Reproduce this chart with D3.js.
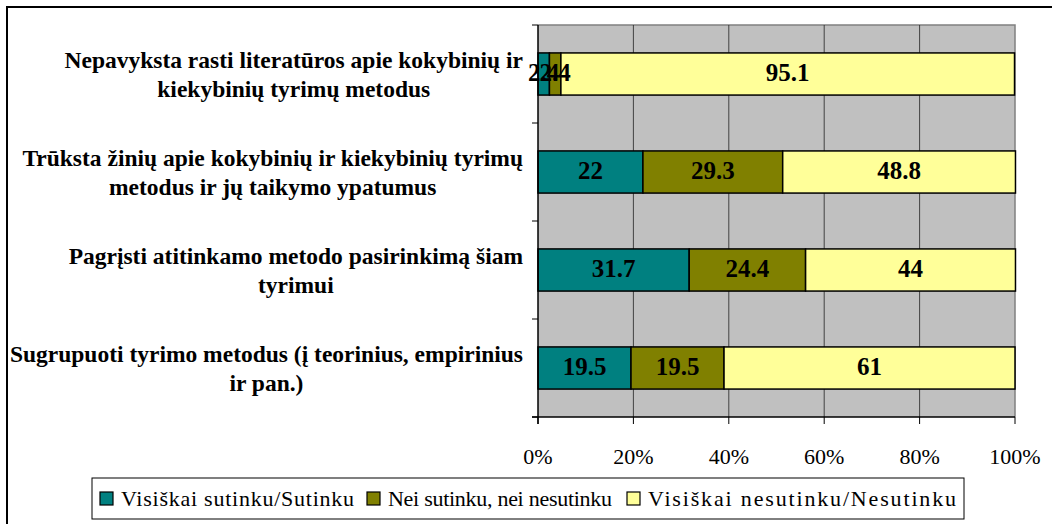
<!DOCTYPE html>
<meta charset="utf-8">
<style>
    body {margin:0; background:#fff;}
    svg text {font-family: 'Liberation Serif', 'Times New Roman', serif;}
</style>
<svg width="1052" height="524"></svg>
<script src="https://d3js.org/d3.v7.min.js"></script>
<script>

var categories = [
  ["Nepavyksta rasti literatūros apie kokybinių ir", "kiekybinių tyrimų metodus"],
  ["Trūksta žinių apie kokybinių ir kiekybinių tyrimų", "metodus ir jų taikymo ypatumus"],
  ["Pagrįsti atitinkamo metodo pasirinkimą šiam", "tyrimui"],
  ["Sugrupuoti tyrimo metodus (į teorinius, empirinius", "ir pan.)"]
];
var seriesNames = ["Visiškai sutinku/Sutinku", "Nei sutinku, nei nesutinku", "Visiškai nesutinku/Nesutinku"];
var agree    = [2.4, 22, 31.7, 19.5];
var neutral  = [2.4, 29.3, 24.4, 19.5];
var disagree = [95.1, 48.8, 44, 61];
var tickValues = [0, 20, 40, 60, 80, 100];
var colors = ["#008080", "#808000", "#FFFF99"];

// legend layout (x of each swatch, width of each text)
var legendX = [100, 367, 627];
var legendW = [233, 224, 308];

var svg = d3.select("svg");

// outer frame, runs off the right and bottom edges
svg.append("rect")
    .attr("x", 7).attr("y", 7)
    .attr("width", 1100).attr("height", 600)
    .style("fill", "#fff").style("stroke", "#000").style("stroke-width", 2);

var pLeft = 538, pRight = 1015, pTop = 25, pBottom = 417;

var x = d3.scaleLinear().domain([0, 100]).range([pLeft, pRight]);
var y = d3.scaleBand().domain(d3.range(categories.length)).range([pTop, pBottom]).paddingInner(0.57).paddingOuter(0.285);
var yb = d3.scaleBand().domain(d3.range(categories.length)).range([pTop, pBottom]);

// plot area
svg.append("rect")
    .attr("x", pLeft).attr("y", pTop)
    .attr("width", pRight - pLeft).attr("height", pBottom - pTop)
    .style("fill", "#C0C0C0");
svg.append("path")
    .attr("d", "M" + pLeft + "," + pTop + "H" + pRight + "V" + pBottom)
    .style("fill", "none").style("stroke", "#808080").style("stroke-width", 1.5);

// gridlines
svg.append("g")
  .selectAll("line")
  .data(tickValues.slice(1, -1))
  .enter().append("line")
    .attr("x1", function(d) { return x(d); })
    .attr("x2", function(d) { return x(d); })
    .attr("y1", pTop).attr("y2", pBottom)
    .style("stroke", "#222").style("stroke-width", 0.8);

// stacked bars
var rows = categories.map(function(c, i) {
  var vals = [agree[i], neutral[i], disagree[i]];
  var acc = 0;
  return vals.map(function(v, k) {
    var seg = {row: i, k: k, v: v, x0: acc, x1: acc + v};
    acc += v;
    return seg;
  });
});
var segs = [].concat.apply([], rows);

svg.append("g")
  .selectAll("rect")
  .data(segs)
  .enter().append("rect")
    .attr("x", function(d) { return x(d.x0); })
    .attr("width", function(d) { return x(d.x1) - x(d.x0); })
    .attr("y", function(d) { return y(d.row); })
    .attr("height", y.bandwidth())
    .style("fill", function(d) { return colors[d.k]; })
    .style("stroke", "#000").style("stroke-width", 1.5);

svg.append("g")
  .selectAll("text")
  .data(segs)
  .enter().append("text")
    .attr("x", function(d) { return x((d.x0 + d.x1) / 2); })
    .attr("y", function(d) { return y(d.row) + y.bandwidth() / 2 + 7; })
    .attr("text-anchor", "middle")
    .style("font-size", "25px").style("font-weight", "bold")
    .text(function(d) { return d.v; });

// axes
var yAxis = svg.append("g");
yAxis.append("line")
    .attr("x1", pLeft).attr("x2", pLeft).attr("y1", pTop).attr("y2", pBottom + 7)
    .style("stroke", "#000").style("stroke-width", 1.5);
yAxis.selectAll(".tk")
  .data(d3.range(categories.length + 1))
  .enter().append("line")
    .attr("x1", pLeft - 6).attr("x2", pLeft)
    .attr("y1", function(d) { return pTop + d * yb.step(); })
    .attr("y2", function(d) { return pTop + d * yb.step(); })
    .style("stroke", "#000").style("stroke-width", 1);

var xAxis = svg.append("g");
xAxis.append("line")
    .attr("x1", pLeft - 6).attr("x2", pRight).attr("y1", pBottom).attr("y2", pBottom)
    .style("stroke", "#000").style("stroke-width", 1.5);
xAxis.selectAll(".tk")
  .data(tickValues)
  .enter().append("line")
    .attr("x1", function(d) { return x(d); })
    .attr("x2", function(d) { return x(d); })
    .attr("y1", pBottom).attr("y2", pBottom + 7)
    .style("stroke", "#000").style("stroke-width", 1);
xAxis.selectAll("text")
  .data(tickValues)
  .enter().append("text")
    .attr("x", function(d) { return x(d); })
    .attr("y", 464)
    .attr("text-anchor", "middle")
    .style("font-size", "22px")
    .text(function(d) { return d + "%"; });

// category labels, each block centred with its right edge near the axis
var labels = svg.append("g");
categories.forEach(function(lines, i) {
  var t = labels.append("text")
      .attr("text-anchor", "middle")
      .style("font-size", "23.5px").style("font-weight", "bold");
  var spans = lines.map(function(l, j) {
    return t.append("tspan").attr("y", yb(i) + yb.bandwidth() / 2 - 6 + j * 29).text(l);
  });
  var w = d3.max(spans, function(s) { return s.node().getComputedTextLength(); });
  spans.forEach(function(s) { s.attr("x", 523 - w / 2); });
});

// legend
var legend = svg.append("g");
legend.append("rect")
    .attr("x", 92).attr("y", 478).attr("width", 872).attr("height", 41)
    .style("fill", "#fff").style("stroke", "#000").style("stroke-width", 1);
seriesNames.forEach(function(name, k) {
  legend.append("rect")
      .attr("x", legendX[k]).attr("y", 492).attr("width", 13).attr("height", 13)
      .style("fill", colors[k]).style("stroke", "#000").style("stroke-width", 1.2);
  legend.append("text")
      .attr("x", legendX[k] + 21).attr("y", 506)
      .attr("textLength", legendW[k]).attr("lengthAdjust", "spacing")
      .style("font-size", "22px")
      .text(name);
});

</script>
